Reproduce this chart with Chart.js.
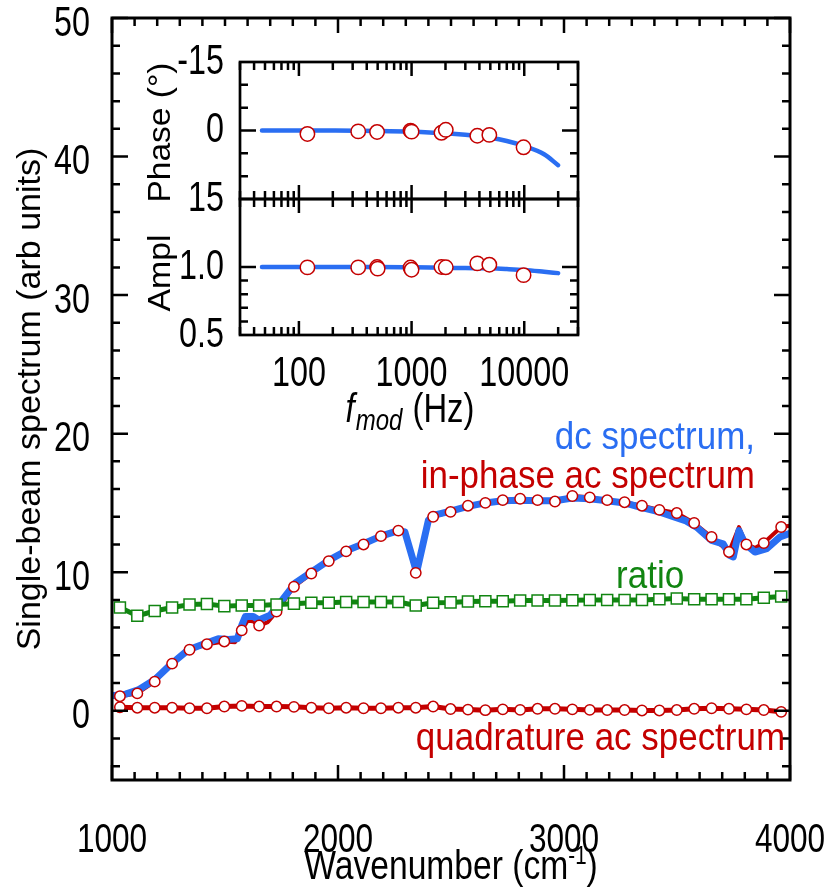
<!DOCTYPE html>
<html>
<head>
<meta charset="utf-8">
<script src="https://cdn.jsdelivr.net/npm/chart.js@4.4.1/dist/chart.umd.min.js"></script>
<style>
  html, body { margin: 0; padding: 0; background: #fff; }
  #wrap { position: relative; width: 833px; height: 892px; }
  #wrap canvas { position: absolute; left: 0; top: 0; }
</style>
</head>
<body>
<div id="wrap">
  <canvas id="mainChart" width="833" height="892"></canvas>
  <canvas id="phaseChart" width="833" height="892"></canvas>
  <canvas id="amplChart" width="833" height="892"></canvas>
</div>
<script>
// ---- main panel data (wavenumber in cm-1) ----
const markerX = [1035, 1112, 1189, 1266, 1343, 1420, 1497, 1574, 1651, 1728, 1805, 1882, 1959, 2036, 2113, 2190, 2267, 2344, 2421, 2498,
  2575, 2652, 2729, 2806, 2883, 2960, 3037, 3114, 3191, 3268, 3345, 3422, 3499, 3576, 3653, 3730, 3807, 3884, 3961];
const inPhaseMarkers = [1.05, 1.25, 2.1, 3.4, 4.4, 4.8, 5.0, 5.8, 6.15, 7.15, 8.95, 9.9, 10.8, 11.5, 12.0, 12.6, 13.0, 9.95, 14.0, 14.35,
  14.8, 15.0, 15.2, 15.3, 15.2, 15.1, 15.5, 15.4, 15.2, 15.05, 14.8, 14.5, 14.27, 13.55, 12.54, 11.46, 12.0, 12.1, 13.26];
const quadrature = [0.25, 0.22, 0.22, 0.22, 0.18, 0.18, 0.3, 0.35, 0.3, 0.3, 0.28, 0.22, 0.18, 0.22, 0.18, 0.18, 0.22, 0.22, 0.3, 0.12,
  0.08, 0.04, 0.1, 0.06, 0.14, 0.14, 0.1, 0.06, 0.05, 0.05, 0.02, 0.02, 0.05, 0.14, 0.18, 0.14, 0.1, 0.05, -0.08];
const ratio = [7.45, 6.85, 7.2, 7.45, 7.66, 7.7, 7.55, 7.6, 7.6, 7.66, 7.73, 7.8, 7.8, 7.85, 7.85, 7.85, 7.85, 7.6, 7.8, 7.82,
  7.88, 7.9, 7.9, 7.95, 7.95, 7.95, 7.97, 8.0, 8.0, 8.0, 8.0, 8.05, 8.1, 8.05, 8.05, 8.05, 8.05, 8.15, 8.25];

// continuous in-phase trace (red, under the dc trace)
const inPhaseLineX = [1035, 1112, 1189, 1266, 1343, 1420, 1497, 1545, 1574, 1600, 1625, 1651, 1690, 1728, 1805, 1882, 1959, 2036, 2113, 2190,
  2267, 2296, 2344, 2400, 2421, 2498, 2575, 2652, 2729, 2806, 2883, 2960, 3037, 3114, 3191, 3268, 3345, 3422, 3499, 3576,
  3653, 3730, 3774, 3807, 3845, 3884, 3961, 4000];
const inPhaseLineY = [1.05, 1.25, 2.1, 3.4, 4.4, 4.8, 5.0, 4.95, 5.8, 6.5, 6.45, 6.15, 6.4, 7.15, 8.95, 9.9, 10.8, 11.5, 12.0, 12.6,
  13.0, 12.8, 9.95, 13.6, 14.0, 14.35, 14.8, 15.0, 15.2, 15.3, 15.2, 15.1, 15.5, 15.4, 15.2, 15.05, 14.8, 14.5, 14.27, 13.55,
  12.54, 11.46, 13.25, 12.0, 11.75, 12.1, 13.26, 13.35];

// dc spectrum (thick blue)
const dcX = [1010, 1060, 1116, 1190, 1264, 1338, 1412, 1470, 1515, 1555, 1575, 1590, 1625, 1650, 1700, 1751, 1810, 1882, 1959, 2036,
  2113, 2190, 2267, 2296, 2348, 2400, 2422, 2498, 2575, 2652, 2729, 2806, 2883, 2960, 3037, 3114, 3191, 3268, 3336, 3422,
  3484, 3540, 3587, 3653, 3704, 3734, 3749, 3774, 3801, 3845, 3897, 3956, 4000];
const dcY = [1.1, 1.2, 1.5, 2.25, 3.4, 4.4, 4.85, 5.2, 5.15, 5.2, 6.2, 6.8, 6.8, 6.55, 6.9, 7.95, 9.2, 10.0, 10.85, 11.55,
  12.05, 12.6, 13.0, 12.9, 10.0, 13.75, 14.1, 14.4, 14.75, 15.0, 15.15, 15.2, 15.15, 15.15, 15.35, 15.3, 15.15, 15.0, 14.7, 14.35,
  14.0, 13.7, 13.25, 12.3, 12.05, 11.2, 11.1, 13.0, 12.05, 11.45, 11.7, 12.55, 12.8];

const xTickLabels = [1000, 2000, 3000, 4000];
const yTickLabels = [0, 10, 20, 30, 40, 50];

// ---- inset data (modulation frequency in Hz) ----
const fitFreq = [47, 100, 200, 500, 1000, 2000, 3000, 5000, 7000, 10000, 15000, 20000];
const fitPhase = [0, 0, 0.02, 0.1, 0.25, 0.6, 0.95, 1.6, 2.3, 3.4, 5.2, 7.6];
const fitAmpl = [1, 1, 1, 1, 0.998, 0.995, 0.992, 0.99, 0.985, 0.978, 0.965, 0.955];
const phaseFreq = [119, 336, 494, 979, 1000, 1841, 2012, 3830, 4900, 9860];
const phaseMeas = [0.75, 0.2, 0.32, 0.05, 0.25, 0.5, -0.15, 1.15, 0.96, 3.68];
const amplFreq = [119, 336, 494, 500, 979, 1000, 1841, 2012, 3830, 4900, 9860];
const amplMeas = [0.997, 0.997, 1.0, 0.988, 0.996, 0.98, 1.0, 0.998, 1.027, 1.017, 0.94];

const insetXTicks = [100, 1000, 10000];
const phaseTicks = [-15, 0, 15];
const amplTicks = [0.5, 1.0];

const BLUE = '#2a6ef2';
const RED = '#c40000';
const GREEN = '#118511';
const REGULAR = '"Liberation Sans", Arial, sans-serif';
// the reference lettering is tall and narrow; no narrow face is installed, so
// horizontal text is squeezed at draw time. The factor rides in the family list.
const squeezed = (pct) => `"Liberation Sans", "cond${pct}", Arial, sans-serif`;
const TICK_FONT = squeezed(77);
const NOTE_FONT = squeezed(92);
const TITLE_FONT = squeezed(82);
const INSET_TITLE_FONT = squeezed(80);

const squeezeOf = (font) => {
  const m = /cond(\d+)/.exec(font);
  return m ? m[1] / 100 : 1;
};

const squeezeText = (canvas) => {
  const ctx = canvas.getContext('2d');
  const origFill = ctx.fillText;
  ctx.fillText = function (text, x, y, maxWidth) {
    const k = squeezeOf(this.font);
    if (k === 1) return origFill.call(this, text, x, y, maxWidth);
    this.save();
    this.translate(x, y);
    this.scale(k, 1);
    origFill.call(this, text, 0, 0);
    this.restore();
  };
};

const textWidth = (ctx, text) => ctx.measureText(text).width * squeezeOf(ctx.font);

const toXY = (xs, ys) => xs.map((x, i) => ({ x, y: ys[i] }));

// minor tick helpers (positions only)
const linearSteps = (from, to, step) => {
  const out = [];
  for (let v = from; v <= to + 1e-9; v += step) out.push(+v.toFixed(6));
  return out;
};
const logMinor = (lo, hi) => {
  const out = [];
  for (let d = 10; d <= hi; d *= 10) {
    for (let m = 2; m <= 9; m++) {
      const v = m * d;
      if (v >= lo && v <= hi) out.push(v);
    }
  }
  return out;
};

// fix axis box sizes so the plot areas land where they should
const fixBox = (size) => (scale) => {
  if (scale.isHorizontal()) scale.height = size; else scale.width = size;
  scale.paddingLeft = scale.paddingRight = scale.paddingTop = scale.paddingBottom = 0;
};
const setTicks = (values) => (scale) => { scale.ticks = values.map(v => ({ value: v })); };

/**
 * Inward ticks on every side plus the frame
 */
const frameTicks = {
  id: 'frameTicks',
  afterDraw(chart, args, opts) {
    const { ctx, chartArea: a } = chart;
    ctx.save();
    ctx.strokeStyle = '#000';
    ctx.lineCap = 'butt';
    opts.axes.forEach(ax => {
      const scale = chart.scales[ax.id];
      ctx.lineWidth = ax.width;
      const draw = (values, len) => values.forEach(v => {
        const p = scale.getPixelForValue(v);
        ctx.beginPath();
        if (scale.isHorizontal()) {
          ctx.moveTo(p, a.bottom); ctx.lineTo(p, a.bottom - len);
          ctx.moveTo(p, a.top); ctx.lineTo(p, a.top + len);
        } else {
          ctx.moveTo(a.left, p); ctx.lineTo(a.left + len, p);
          ctx.moveTo(a.right, p); ctx.lineTo(a.right - len, p);
        }
        ctx.stroke();
      });
      draw(ax.major, ax.majorLen);
      draw(ax.minor, ax.minorLen);
    });
    ctx.lineWidth = opts.frameWidth;
    ctx.strokeRect(a.left, a.top, a.right - a.left, a.bottom - a.top);

    // rotated axis title for the inset panels, stretched to the reference length
    if (opts.yTitle) {
      const t = opts.yTitle;
      ctx.fillStyle = '#000';
      ctx.font = `32px ${REGULAR}`;
      ctx.textAlign = 'center';
      ctx.textBaseline = 'middle';
      const k = t.length / ctx.measureText(t.text).width;
      ctx.translate(t.x, (a.top + a.bottom) / 2 + t.dy);
      ctx.rotate(-Math.PI / 2);
      ctx.scale(k, 1);
      ctx.fillText(t.text, 0, 0);
    }
    ctx.restore();
  }
};

/**
 * Free text: axis titles with super/subscripts and series labels
 */
const mainText = {
  id: 'mainText',
  afterDraw(chart) {
    const { ctx, chartArea: a, scales: { x, y } } = chart;
    ctx.save();
    ctx.textBaseline = 'alphabetic';

    // x-axis title with superscript
    const base = 'Wavenumber (cm';
    const big = `41px ${TITLE_FONT}`;
    const small = `25px ${TITLE_FONT}`;
    ctx.font = big;
    const w1 = textWidth(ctx, base);
    const w3 = textWidth(ctx, ')');
    ctx.font = small;
    const w2 = textWidth(ctx, '-1');
    const tx = (a.left + a.right) / 2 - (w1 + w2 + w3) / 2;
    const ty = a.bottom + 99;
    ctx.fillStyle = '#000';
    ctx.textAlign = 'left';
    ctx.font = big;
    ctx.fillText(base, tx, ty);
    ctx.font = small;
    ctx.fillText('-1', tx + w1, ty - 15);
    ctx.font = big;
    ctx.fillText(')', tx + w1 + w2, ty);

    // series labels, anchored in data units
    ctx.font = `38px ${NOTE_FONT}`;
    ctx.textAlign = 'right';
    ctx.fillStyle = BLUE;
    ctx.fillText('dc spectrum,', x.getPixelForValue(3845), y.getPixelForValue(18.9));
    ctx.fillStyle = RED;
    ctx.fillText('in-phase ac spectrum', x.getPixelForValue(3845), y.getPixelForValue(16.1));
    ctx.fillText('quadrature ac spectrum', x.getPixelForValue(3978), y.getPixelForValue(-2.85));
    ctx.textAlign = 'center';
    ctx.fillStyle = GREEN;
    ctx.fillText('ratio', x.getPixelForValue(3381), y.getPixelForValue(8.85));
    ctx.restore();
  }
};

const insetText = {
  id: 'insetText',
  afterDraw(chart) {
    const { ctx, chartArea: a } = chart;
    ctx.save();
    ctx.fillStyle = '#000';
    ctx.textBaseline = 'alphabetic';
    ctx.textAlign = 'left';
    const fFont = `italic 41px ${INSET_TITLE_FONT}`;
    const subFont = `italic 30px ${INSET_TITLE_FONT}`;
    const hzFont = `41px ${INSET_TITLE_FONT}`;
    ctx.font = fFont; const wf = textWidth(ctx, 'f');
    ctx.font = subFont; const wm = textWidth(ctx, 'mod');
    ctx.font = hzFont; const wh = textWidth(ctx, ' (Hz)');
    const tx = (a.left + a.right) / 2 - (wf + wm + wh) / 2;
    const ty = a.bottom + 87;
    ctx.font = fFont; ctx.fillText('f', tx, ty);
    ctx.font = subFont; ctx.fillText('mod', tx + wf + 1, ty + 8);
    ctx.font = hzFont; ctx.fillText(' (Hz)', tx + wf + wm + 2, ty);
    ctx.restore();
  }
};

const baseOptions = (padding) => ({
  responsive: false,
  animation: false,
  devicePixelRatio: 1,
  layout: { padding },
  plugins: { legend: { display: false }, tooltip: { enabled: false } },
  elements: { line: { borderJoinStyle: 'round', borderCapStyle: 'round', tension: 0 } }
});

['mainChart', 'phaseChart', 'amplChart'].forEach(id => squeezeText(document.getElementById(id)));

// ---- main chart ----
const mainOptions = baseOptions({ left: 0, top: 18, right: 43, bottom: 0 });
mainOptions.scales = {
  x: {
    type: 'linear', min: 1000, max: 4000,
    afterBuildTicks: setTicks(xTickLabels),
    afterFit: fixBox(112),
    grid: { display: false }, border: { display: false },
    ticks: { color: '#000', font: { family: TICK_FONT, size: 41 }, padding: 28, maxRotation: 0, autoSkip: false, callback: v => String(v) }
  },
  y: {
    type: 'linear', min: -5, max: 50,
    afterBuildTicks: setTicks(yTickLabels),
    afterFit: fixBox(112),
    grid: { display: false }, border: { display: false },
    ticks: { color: '#000', font: { family: TICK_FONT, size: 42 }, padding: 14, labelOffset: 6, autoSkip: false, callback: v => String(v) },
    title: { display: true, text: 'Single-beam spectrum (arb units)', color: '#000', font: { family: REGULAR, size: 34 }, padding: { top: 10, bottom: 0 } }
  }
};
mainOptions.plugins.frameTicks = {
  frameWidth: 3,
  axes: [
    { id: 'x', major: xTickLabels, minor: linearSteps(1100, 3900, 100).filter(v => v % 1000 !== 0), majorLen: 15, minorLen: 8, width: 2.5 },
    { id: 'y', major: yTickLabels, minor: linearSteps(-4, 48, 2).filter(v => v % 10 !== 0), majorLen: 16, minorLen: 8, width: 2.5 }
  ]
};

new Chart(document.getElementById('mainChart'), {
  type: 'line',
  data: {
    datasets: [
      {
        label: 'quadrature ac spectrum', data: toXY(markerX, quadrature), order: 1,
        borderColor: RED, borderWidth: 5, pointRadius: 5.2, pointBackgroundColor: '#fff', pointBorderColor: RED, pointBorderWidth: 1.5
      },
      {
        label: 'ratio', data: toXY(markerX, ratio), order: 2,
        borderColor: GREEN, borderWidth: 5, pointStyle: 'rect', pointRadius: 7.8, pointBackgroundColor: '#fff', pointBorderColor: GREEN, pointBorderWidth: 1.5
      },
      {
        label: 'in-phase ac spectrum (points)', data: toXY(markerX, inPhaseMarkers), order: 3, showLine: false,
        pointRadius: 5.2, pointBackgroundColor: '#fff', pointBorderColor: RED, pointBorderWidth: 1.5
      },
      {
        label: 'dc spectrum', data: toXY(dcX, dcY), order: 4,
        borderColor: BLUE, borderWidth: 7, pointRadius: 0
      },
      {
        label: 'in-phase ac spectrum', data: toXY(inPhaseLineX, inPhaseLineY), order: 5,
        borderColor: RED, borderWidth: 4, pointRadius: 0
      }
    ]
  },
  options: mainOptions,
  plugins: [frameTicks, mainText]
});

// ---- inset: phase ----
const insetYWidth = 100;
const insetMinorX = logMinor(30, 30000);

const phaseOptions = baseOptions({ left: 240 - insetYWidth, top: 62, right: 255, bottom: 693 });
phaseOptions.scales = {
  x: {
    type: 'logarithmic', min: 30, max: 30000,
    afterBuildTicks: setTicks(insetXTicks),
    afterFit: fixBox(0),
    grid: { display: false }, border: { display: false },
    ticks: { display: false }
  },
  y: {
    type: 'linear', min: -15, max: 15, reverse: true,
    afterBuildTicks: setTicks(phaseTicks),
    afterFit: fixBox(insetYWidth),
    grid: { display: false }, border: { display: false },
    ticks: { color: '#000', font: { family: TICK_FONT, size: 42 }, padding: 8, autoSkip: false, callback: v => String(v) }
  }
};
phaseOptions.plugins.frameTicks = {
  frameWidth: 2.7,
  yTitle: { text: 'Phase (°)', x: 161, dy: 2, length: 140 },
  axes: [
    { id: 'x', major: insetXTicks, minor: insetMinorX, majorLen: 14, minorLen: 8, width: 2.5 },
    { id: 'y', major: [0], minor: [-10, -5, 5, 10], majorLen: 16, minorLen: 8, width: 2.5 }
  ]
};

new Chart(document.getElementById('phaseChart'), {
  type: 'line',
  data: {
    datasets: [
      {
        label: 'phase measured', data: toXY(phaseFreq, phaseMeas), order: 1, showLine: false,
        pointRadius: 7.2, pointBackgroundColor: '#fff', pointBorderColor: RED, pointBorderWidth: 1.5
      },
      {
        label: 'phase model', data: toXY(fitFreq, fitPhase), order: 2,
        borderColor: BLUE, borderWidth: 4.5, pointRadius: 0, cubicInterpolationMode: 'monotone'
      }
    ]
  },
  options: phaseOptions,
  plugins: [frameTicks]
});

// ---- inset: amplitude ----
const amplOptions = baseOptions({ left: 240 - insetYWidth, top: 199, right: 255, bottom: 892 - 335 - 60 });
amplOptions.scales = {
  x: {
    type: 'logarithmic', min: 30, max: 30000,
    afterBuildTicks: setTicks(insetXTicks),
    afterFit: fixBox(60),
    grid: { display: false }, border: { display: false },
    ticks: { color: '#000', font: { family: TICK_FONT, size: 42 }, padding: 6, maxRotation: 0, autoSkip: false, callback: v => String(v) }
  },
  y: {
    type: 'linear', min: 0.5, max: 1.5,
    afterBuildTicks: setTicks(amplTicks),
    afterFit: fixBox(insetYWidth),
    grid: { display: false }, border: { display: false },
    ticks: { color: '#000', font: { family: TICK_FONT, size: 42 }, padding: 8, autoSkip: false, callback: v => v.toFixed(1) }
  }
};
amplOptions.plugins.frameTicks = {
  frameWidth: 2.7,
  yTitle: { text: 'Ampl', x: 161, dy: 6, length: 77 },
  axes: [
    { id: 'x', major: insetXTicks, minor: insetMinorX, majorLen: 14, minorLen: 8, width: 2.5 },
    { id: 'y', major: [1.0], minor: [0.6, 0.7, 0.8, 0.9], majorLen: 16, minorLen: 8, width: 2.5 }
  ]
};

new Chart(document.getElementById('amplChart'), {
  type: 'line',
  data: {
    datasets: [
      {
        label: 'amplitude measured', data: toXY(amplFreq, amplMeas), order: 1, showLine: false,
        pointRadius: 7.2, pointBackgroundColor: '#fff', pointBorderColor: RED, pointBorderWidth: 1.5
      },
      {
        label: 'amplitude model', data: toXY(fitFreq, fitAmpl), order: 2,
        borderColor: BLUE, borderWidth: 4.5, pointRadius: 0, cubicInterpolationMode: 'monotone'
      }
    ]
  },
  options: amplOptions,
  plugins: [frameTicks, insetText]
});
</script>
</body>
</html>
